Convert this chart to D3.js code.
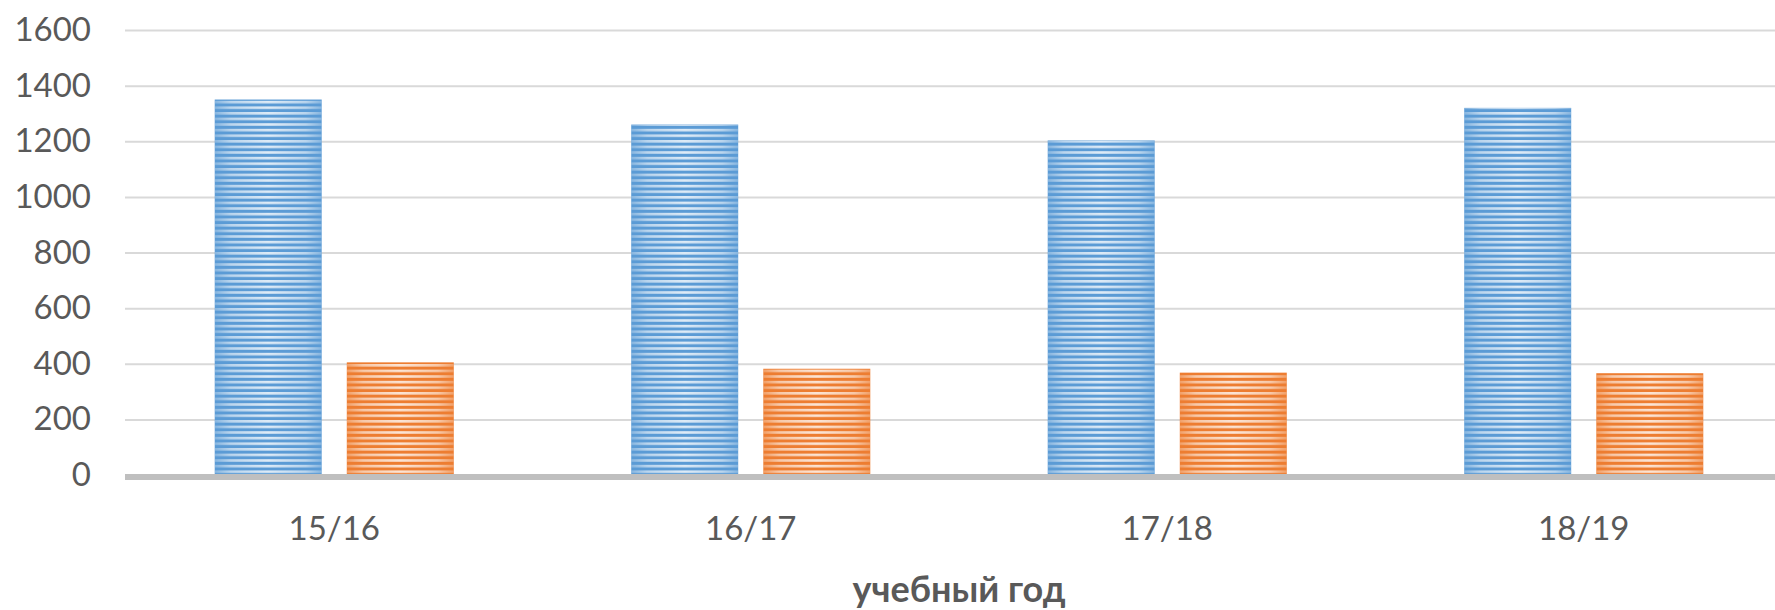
<!DOCTYPE html>
<html>
<head>
<meta charset="utf-8">
<script src="https://cdnjs.cloudflare.com/ajax/libs/d3/7.8.5/d3.min.js"></script>
<style>
  html, body { margin: 0; padding: 0; background: #fff; }
  svg { display: block; }
  text { font-family: Lato, "Open Sans", sans-serif; fill: #595959; }
</style>
</head>
<body>
<script>
// chart values
var categories = ["15/16", "16/17", "17/18", "18/19"];
var seriesNames = ["s1", "s2"];
var seriesValues1 = [1350, 1260, 1203, 1320];
var seriesValues2 = [405, 382, 368, 366];
var yTicks = [0, 200, 400, 600, 800, 1000, 1200, 1400, 1600];
var axisTitle = "учебный год";

var colors = { s1: "#5b9bd5", s2: "#ed7d31" };

var width = 1775, height = 610;
var margin = { top: 30, right: -17, bottom: 135, left: 126 };

var svg = d3.select("body").append("svg")
    .attr("width", width)
    .attr("height", height);

var defs = svg.append("defs");

// striped fill: base colour + light stripes, faded towards the bar edges
var hgrad = defs.append("linearGradient")
    .attr("id", "hgrad")
    .attr("x1", 0).attr("x2", 1).attr("y1", 0).attr("y2", 0);
hgrad.append("stop").attr("offset", "0%").attr("stop-color", "#555");
hgrad.append("stop").attr("offset", "15%").attr("stop-color", "#bbb");
hgrad.append("stop").attr("offset", "50%").attr("stop-color", "#fff");
hgrad.append("stop").attr("offset", "85%").attr("stop-color", "#bbb");
hgrad.append("stop").attr("offset", "100%").attr("stop-color", "#555");

defs.append("mask")
    .attr("id", "fade")
    .attr("maskContentUnits", "objectBoundingBox")
  .append("rect")
    .attr("x", 0).attr("y", 0).attr("width", 1).attr("height", 1)
    .attr("fill", "url(#hgrad)");

var stripes = defs.append("pattern")
    .attr("id", "stripes")
    .attr("patternUnits", "userSpaceOnUse")
    .attr("width", 8)
    .attr("height", 5.6);
stripes.append("rect")
    .attr("x", 0).attr("y", 0).attr("width", 8).attr("height", 2.6)
    .attr("fill", "#fff")
    .attr("opacity", 0.8);

var x0 = d3.scaleBand()
    .domain(categories)
    .range([margin.left, width - margin.right])
    .paddingInner(0.426)
    .paddingOuter(0.213);

var x1 = d3.scaleBand()
    .domain(seriesNames)
    .range([0, x0.bandwidth()])
    .paddingInner(0.19);

var y = d3.scaleLinear()
    .domain([0, 1600])
    .range([height - margin.bottom, margin.top]);

// gridlines
svg.append("g")
    .attr("class", "grid")
    .attr("transform", "translate(" + (margin.left - 1) + ",0)")
    .call(d3.axisRight(y).tickValues(yTicks.slice(1)).tickSize(width - margin.left + 20).tickFormat(""))
    .call(function(g) {
      g.select(".domain").remove();
      g.selectAll("line").attr("stroke", "#d9d9d9").attr("stroke-width", 2);
    });

// y labels
svg.append("g")
    .attr("transform", "translate(" + (margin.left - 18) + ",0)")
    .call(d3.axisLeft(y).tickValues(yTicks).tickSize(0).tickPadding(17).tickFormat(d3.format("d")))
    .call(function(g) {
      g.select(".domain").remove();
      g.selectAll("text")
        .attr("font-size", 33)
        .attr("font-family", "Lato, 'Open Sans', sans-serif")
        .attr("fill", "#595959");
    });

var rows = categories.map(function(c, i) {
  return { cat: c, s1: seriesValues1[i], s2: seriesValues2[i] };
});

var groups = svg.selectAll(".grp")
    .data(rows)
  .enter().append("g")
    .attr("class", "grp")
    .attr("transform", function(d) { return "translate(" + x0(d.cat) + ",0)"; });

var bars = groups.selectAll(".bar")
    .data(function(d) { return seriesNames.map(function(k) { return { key: k, value: d[k] }; }); })
  .enter().append("g")
    .attr("class", "bar");

bars.append("rect")
    .attr("x", function(d) { return x1(d.key); })
    .attr("y", function(d) { return y(d.value); })
    .attr("width", x1.bandwidth())
    .attr("height", function(d) { return y(0) - y(d.value); })
    .attr("fill", function(d) { return colors[d.key]; });

bars.append("rect")
    .attr("x", function(d) { return x1(d.key); })
    .attr("y", function(d) { return y(d.value); })
    .attr("width", x1.bandwidth())
    .attr("height", function(d) { return y(0) - y(d.value); })
    .attr("fill", "url(#stripes)")
    .attr("mask", "url(#fade)");

// x axis line
svg.append("line")
    .attr("x1", margin.left - 1)
    .attr("x2", width)
    .attr("y1", y(0) + 2)
    .attr("y2", y(0) + 2)
    .attr("stroke", "#bfbfbf")
    .attr("stroke-width", 6);

// category labels
svg.append("g")
    .attr("transform", "translate(0," + (y(0) + 65) + ")")
    .call(d3.axisBottom(x0).tickSize(0).tickPadding(0))
    .call(function(g) {
      g.select(".domain").remove();
      g.selectAll("text")
        .attr("dy", 0)
        .attr("font-size", 33)
        .attr("font-family", "Lato, 'Open Sans', sans-serif")
        .attr("fill", "#595959");
    });

svg.append("text")
    .attr("x", (margin.left + width - margin.right) / 2)
    .attr("y", 602)
    .attr("text-anchor", "middle")
    .attr("font-size", 36)
    .attr("font-weight", "bold")
    .text(axisTitle);
</script>
</body>
</html>
